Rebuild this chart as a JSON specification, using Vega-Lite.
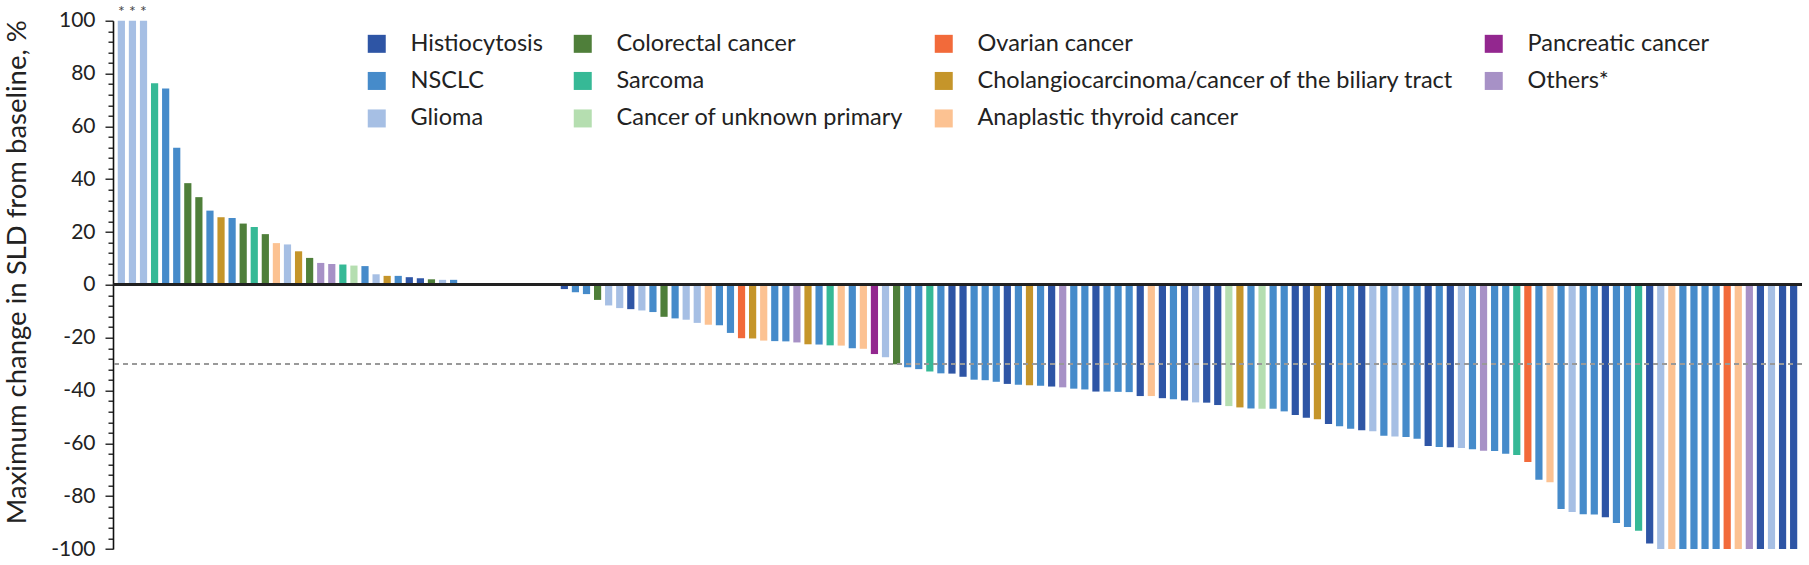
{
  "$schema": "https://vega.github.io/schema/vega-lite/v6.json",
  "width": 1689,
  "height": 528.3,
  "autosize": "none",
  "padding": {"left": 113, "top": 20.7, "right": 7, "bottom": 16},
  "background": "white",
  "config": {"view": {"stroke": null}},
  "data": {
    "values": [
      {"id": 1, "type": "Glioma", "v": 100, "note": "*"},
      {"id": 2, "type": "Glioma", "v": 100, "note": "*"},
      {"id": 3, "type": "Glioma", "v": 100, "note": "*"},
      {"id": 4, "type": "Sarcoma", "v": 76.3},
      {"id": 5, "type": "NSCLC", "v": 74.3},
      {"id": 6, "type": "NSCLC", "v": 51.9},
      {"id": 7, "type": "Colorectal cancer", "v": 38.5},
      {"id": 8, "type": "Colorectal cancer", "v": 33.2},
      {"id": 9, "type": "NSCLC", "v": 28.1},
      {"id": 10, "type": "Cholangiocarcinoma/cancer of the biliary tract", "v": 25.6},
      {"id": 11, "type": "NSCLC", "v": 25.3},
      {"id": 12, "type": "Colorectal cancer", "v": 23.2},
      {"id": 13, "type": "Sarcoma", "v": 21.9},
      {"id": 14, "type": "Colorectal cancer", "v": 19.2},
      {"id": 15, "type": "Anaplastic thyroid cancer", "v": 15.8},
      {"id": 16, "type": "Glioma", "v": 15.3},
      {"id": 17, "type": "Cholangiocarcinoma/cancer of the biliary tract", "v": 12.7},
      {"id": 18, "type": "Colorectal cancer", "v": 10.2},
      {"id": 19, "type": "Others*", "v": 8.3},
      {"id": 20, "type": "Others*", "v": 7.9},
      {"id": 21, "type": "Sarcoma", "v": 7.7},
      {"id": 22, "type": "Cancer of unknown primary", "v": 7.3},
      {"id": 23, "type": "NSCLC", "v": 7.1},
      {"id": 24, "type": "Glioma", "v": 4.0},
      {"id": 25, "type": "Cholangiocarcinoma/cancer of the biliary tract", "v": 3.4},
      {"id": 26, "type": "NSCLC", "v": 3.4},
      {"id": 27, "type": "Histiocytosis", "v": 2.9},
      {"id": 28, "type": "Histiocytosis", "v": 2.5},
      {"id": 29, "type": "Colorectal cancer", "v": 2.1},
      {"id": 30, "type": "Glioma", "v": 1.9},
      {"id": 31, "type": "NSCLC", "v": 1.9},
      {"id": 32, "type": "NSCLC", "v": 0},
      {"id": 33, "type": "NSCLC", "v": 0},
      {"id": 34, "type": "NSCLC", "v": 0},
      {"id": 35, "type": "NSCLC", "v": 0},
      {"id": 36, "type": "NSCLC", "v": 0},
      {"id": 37, "type": "NSCLC", "v": 0},
      {"id": 38, "type": "NSCLC", "v": 0},
      {"id": 39, "type": "NSCLC", "v": 0},
      {"id": 40, "type": "NSCLC", "v": 0},
      {"id": 41, "type": "Histiocytosis", "v": -1.6},
      {"id": 42, "type": "NSCLC", "v": -2.8},
      {"id": 43, "type": "NSCLC", "v": -3.5},
      {"id": 44, "type": "Colorectal cancer", "v": -5.7},
      {"id": 45, "type": "Glioma", "v": -7.8},
      {"id": 46, "type": "Glioma", "v": -8.8},
      {"id": 47, "type": "Histiocytosis", "v": -9.2},
      {"id": 48, "type": "Glioma", "v": -9.7},
      {"id": 49, "type": "NSCLC", "v": -10.3},
      {"id": 50, "type": "Colorectal cancer", "v": -12.1},
      {"id": 51, "type": "NSCLC", "v": -12.7},
      {"id": 52, "type": "Glioma", "v": -13.2},
      {"id": 53, "type": "Glioma", "v": -14.4},
      {"id": 54, "type": "Anaplastic thyroid cancer", "v": -15.1},
      {"id": 55, "type": "NSCLC", "v": -15.3},
      {"id": 56, "type": "NSCLC", "v": -18.2},
      {"id": 57, "type": "Ovarian cancer", "v": -20.2},
      {"id": 58, "type": "Cholangiocarcinoma/cancer of the biliary tract", "v": -20.3},
      {"id": 59, "type": "Anaplastic thyroid cancer", "v": -21.1},
      {"id": 60, "type": "NSCLC", "v": -21.3},
      {"id": 61, "type": "NSCLC", "v": -21.4},
      {"id": 62, "type": "Others*", "v": -21.8},
      {"id": 63, "type": "Cholangiocarcinoma/cancer of the biliary tract", "v": -22.5},
      {"id": 64, "type": "NSCLC", "v": -22.6},
      {"id": 65, "type": "Sarcoma", "v": -22.9},
      {"id": 66, "type": "Anaplastic thyroid cancer", "v": -23.0},
      {"id": 67, "type": "NSCLC", "v": -24.0},
      {"id": 68, "type": "Anaplastic thyroid cancer", "v": -24.2},
      {"id": 69, "type": "Pancreatic cancer", "v": -26.2},
      {"id": 70, "type": "Glioma", "v": -27.4},
      {"id": 71, "type": "Colorectal cancer", "v": -30.1},
      {"id": 72, "type": "NSCLC", "v": -31.2},
      {"id": 73, "type": "NSCLC", "v": -31.9},
      {"id": 74, "type": "Sarcoma", "v": -32.8},
      {"id": 75, "type": "NSCLC", "v": -33.5},
      {"id": 76, "type": "Histiocytosis", "v": -33.6},
      {"id": 77, "type": "Histiocytosis", "v": -34.8},
      {"id": 78, "type": "NSCLC", "v": -35.9},
      {"id": 79, "type": "NSCLC", "v": -36.1},
      {"id": 80, "type": "NSCLC", "v": -36.7},
      {"id": 81, "type": "Histiocytosis", "v": -37.5},
      {"id": 82, "type": "NSCLC", "v": -37.8},
      {"id": 83, "type": "Cholangiocarcinoma/cancer of the biliary tract", "v": -38.0},
      {"id": 84, "type": "NSCLC", "v": -38.2},
      {"id": 85, "type": "Histiocytosis", "v": -38.5},
      {"id": 86, "type": "Others*", "v": -38.8},
      {"id": 87, "type": "NSCLC", "v": -39.3},
      {"id": 88, "type": "NSCLC", "v": -39.6},
      {"id": 89, "type": "Histiocytosis", "v": -40.4},
      {"id": 90, "type": "NSCLC", "v": -40.4},
      {"id": 91, "type": "NSCLC", "v": -40.5},
      {"id": 92, "type": "NSCLC", "v": -40.6},
      {"id": 93, "type": "Histiocytosis", "v": -42.1},
      {"id": 94, "type": "Anaplastic thyroid cancer", "v": -42.1},
      {"id": 95, "type": "Histiocytosis", "v": -42.9},
      {"id": 96, "type": "NSCLC", "v": -43.3},
      {"id": 97, "type": "Histiocytosis", "v": -43.8},
      {"id": 98, "type": "Glioma", "v": -44.5},
      {"id": 99, "type": "Histiocytosis", "v": -44.6},
      {"id": 100, "type": "Histiocytosis", "v": -45.5},
      {"id": 101, "type": "Cancer of unknown primary", "v": -45.9},
      {"id": 102, "type": "Cholangiocarcinoma/cancer of the biliary tract", "v": -46.4},
      {"id": 103, "type": "NSCLC", "v": -46.8},
      {"id": 104, "type": "Cancer of unknown primary", "v": -46.9},
      {"id": 105, "type": "NSCLC", "v": -46.9},
      {"id": 106, "type": "NSCLC", "v": -47.9},
      {"id": 107, "type": "Histiocytosis", "v": -49.3},
      {"id": 108, "type": "Histiocytosis", "v": -50.3},
      {"id": 109, "type": "Cholangiocarcinoma/cancer of the biliary tract", "v": -50.9},
      {"id": 110, "type": "Histiocytosis", "v": -52.7},
      {"id": 111, "type": "NSCLC", "v": -53.5},
      {"id": 112, "type": "NSCLC", "v": -54.5},
      {"id": 113, "type": "Histiocytosis", "v": -55.0},
      {"id": 114, "type": "Glioma", "v": -55.4},
      {"id": 115, "type": "NSCLC", "v": -57.1},
      {"id": 116, "type": "Glioma", "v": -57.4},
      {"id": 117, "type": "NSCLC", "v": -57.6},
      {"id": 118, "type": "NSCLC", "v": -58.3},
      {"id": 119, "type": "Histiocytosis", "v": -61.0},
      {"id": 120, "type": "NSCLC", "v": -61.4},
      {"id": 121, "type": "Histiocytosis", "v": -61.5},
      {"id": 122, "type": "Glioma", "v": -61.8},
      {"id": 123, "type": "NSCLC", "v": -62.2},
      {"id": 124, "type": "Others*", "v": -62.8},
      {"id": 125, "type": "NSCLC", "v": -62.9},
      {"id": 126, "type": "NSCLC", "v": -63.9},
      {"id": 127, "type": "Sarcoma", "v": -64.4},
      {"id": 128, "type": "Ovarian cancer", "v": -67.1},
      {"id": 129, "type": "NSCLC", "v": -73.8},
      {"id": 130, "type": "Anaplastic thyroid cancer", "v": -74.7},
      {"id": 131, "type": "NSCLC", "v": -84.9},
      {"id": 132, "type": "Glioma", "v": -86.0},
      {"id": 133, "type": "NSCLC", "v": -86.8},
      {"id": 134, "type": "NSCLC", "v": -86.9},
      {"id": 135, "type": "Histiocytosis", "v": -88.0},
      {"id": 136, "type": "NSCLC", "v": -90.2},
      {"id": 137, "type": "NSCLC", "v": -91.7},
      {"id": 138, "type": "Sarcoma", "v": -93.1},
      {"id": 139, "type": "Histiocytosis", "v": -97.9},
      {"id": 140, "type": "Glioma", "v": -100},
      {"id": 141, "type": "Anaplastic thyroid cancer", "v": -100},
      {"id": 142, "type": "NSCLC", "v": -100},
      {"id": 143, "type": "NSCLC", "v": -100},
      {"id": 144, "type": "NSCLC", "v": -100},
      {"id": 145, "type": "NSCLC", "v": -100},
      {"id": 146, "type": "Ovarian cancer", "v": -100},
      {"id": 147, "type": "Anaplastic thyroid cancer", "v": -100},
      {"id": 148, "type": "Others*", "v": -100},
      {"id": 149, "type": "Histiocytosis", "v": -100},
      {"id": 150, "type": "Glioma", "v": -100},
      {"id": 151, "type": "Histiocytosis", "v": -100},
      {"id": 152, "type": "Histiocytosis", "v": -100}
    ]
  },
  "encoding": {
    "x": {"field": "id", "type": "ordinal", "sort": "ascending", "axis": null,
          "scale": {"paddingInner": 0.35, "paddingOuter": 0.43}},
    "y": {"field": "v", "type": "quantitative",
          "scale": {"domain": [-100, 100], "nice": false, "zero": true},
          "axis": {
            "title": "Maximum change in SLD from baseline, %",
            "titleFont": "Lato", "titleFontSize": 27.5, "titleFontWeight": "normal", "titleColor": "#222",
            "titleX": -96, "titleY": 251, "titleAlign": "center", "titleBaseline": "middle", "titleAngle": -90,
            "values": [-100,-96,-92,-88,-84,-80,-76,-72,-68,-64,-60,-56,-52,-48,-44,-40,-36,-32,-28,-24,-20,-16,-12,-8,-4,0,4,8,12,16,20,24,28,32,36,40,44,48,52,56,60,64,68,72,76,80,84,88,92,96,100],
            "labelExpr": "datum.value % 20 === 0 ? '' + datum.value : ''",
            "labelFont": "Lato", "labelFontSize": 21, "labelColor": "#222", "labelPadding": 10,
            "labelOverlap": false, "labelBound": false, "labelFlush": false,
            "tickSize": {"condition": {"test": "datum.value % 20 === 0", "value": 8}, "value": 5},
            "tickColor": "#111", "tickWidth": 1.3,
            "domainColor": "#111", "domainWidth": 1.6, "grid": false
          }}
  },
  "layer": [
    {
      "mark": {"type": "bar"},
      "encoding": {
        "color": {"field": "type", "type": "nominal",
          "scale": {
            "domain": ["Histiocytosis", "NSCLC", "Glioma", "Colorectal cancer", "Sarcoma", "Cancer of unknown primary", "Ovarian cancer", "Cholangiocarcinoma/cancer of the biliary tract", "Anaplastic thyroid cancer", "Pancreatic cancer", "Others*"],
            "range": ["#2E55A5", "#468BCA", "#A6BFE4", "#4F7F3A", "#36B996", "#B5DEB0", "#F26A3A", "#C5952A", "#FCC292", "#93278F", "#A791C6"]
          },
          "legend": {
            "title": null, "orient": "none", "legendX": 252, "legendY": 11, "columns": 4,
            "padding": 0, "symbolType": "square", "symbolSize": 324, "symbolStrokeWidth": 0, "symbolOpacity": 1,
            "labelFont": "Lato", "labelFontSize": 23.5, "labelColor": "#222", "labelLimit": 0, "labelOffset": 22,
            "columnPadding": 28, "rowPadding": 12.5
          }}
      }
    },
    {
      "mark": {"type": "rule", "color": "#999", "strokeWidth": 1.5, "strokeDash": [5, 4]},
      "encoding": {"y": {"datum": -30}, "x": null}
    },
    {
      "mark": {"type": "rule", "color": "#222", "strokeWidth": 2},
      "encoding": {"y": {"datum": 0}, "x": null}
    },
    {
      "transform": [{"filter": "datum.note != null"}],
      "mark": {"type": "text", "baseline": "middle", "dy": -9, "fontSize": 16, "color": "#444", "font": "Lato"},
      "encoding": {"text": {"field": "note"}}
    }
  ]
}
